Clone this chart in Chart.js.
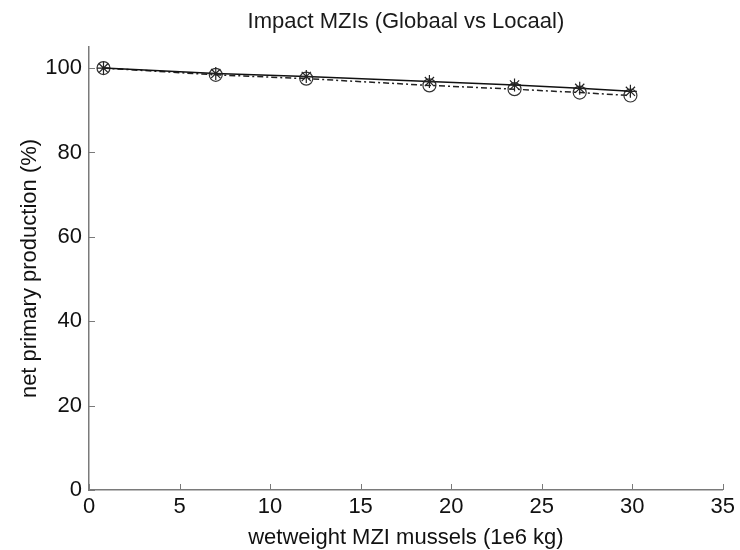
<!DOCTYPE html>
<html>
<head>
<meta charset="utf-8">
<script src="https://cdn.jsdelivr.net/npm/chart.js@4"></script>
<style>
html,body{margin:0;padding:0;background:#fff;}
#wrap{width:740px;height:550px;}
</style>
</head>
<body>
<div id="wrap"><canvas id="c" width="740" height="550"></canvas></div>
<script>
const xValues = [0.8, 7, 12, 18.8, 23.5, 27.1, 29.9];
const globaal = [100, 98.7, 98.0, 96.8, 96.0, 95.2, 94.5];
const locaal  = [100, 98.4, 97.5, 95.9, 95.0, 94.2, 93.5];
const xTicks = [0, 5, 10, 15, 20, 25, 30, 35];
const yTicks = [0, 20, 40, 60, 80, 100];
const chartTitle = 'Impact MZIs (Globaal vs Locaal)';

const toPts = (ys) => xValues.map((x, i) => ({x: x, y: ys[i]}));

const innerTicks = {
  id: 'innerTicks',
  afterDraw(chart) {
    const ctx = chart.ctx;
    const xs = chart.scales.x, ys = chart.scales.y;
    const a = chart.chartArea;
    ctx.save();
    ctx.strokeStyle = '#7a7a7a';
    ctx.lineWidth = 1;
    ctx.beginPath();
    xTicks.forEach(v => {
      const px = Math.round(xs.getPixelForValue(v)) + 0.5;
      ctx.moveTo(px, a.bottom);
      ctx.lineTo(px, a.bottom - 6);
    });
    yTicks.forEach(v => {
      const py = Math.round(ys.getPixelForValue(v)) + 0.5;
      ctx.moveTo(a.left, py);
      ctx.lineTo(a.left + 6, py);
    });
    ctx.stroke();
    ctx.restore();
  }
};

const font = "'Liberation Sans', Arial, sans-serif";

new Chart(document.getElementById('c'), {
  type: 'scatter',
  data: {
    datasets: [
      {
        label: 'Globaal',
        data: toPts(globaal),
        showLine: true,
        borderColor: '#111',
        borderWidth: 1.5,
        pointStyle: 'star',
        pointRadius: 6.5,
        pointBorderColor: '#222',
        pointBorderWidth: 1.2,
        pointBackgroundColor: 'transparent'
      },
      {
        label: 'Locaal',
        data: toPts(locaal),
        showLine: true,
        borderColor: '#222',
        borderWidth: 1.5,
        borderDash: [6, 3, 2, 3],
        pointStyle: 'circle',
        pointRadius: 6.5,
        pointBorderColor: '#333',
        pointBorderWidth: 1.2,
        pointBackgroundColor: 'transparent'
      }
    ]
  },
  options: {
    responsive: false,
    animation: false,
    devicePixelRatio: 1,
    layout: { padding: { left: 0, right: 16, top: 0, bottom: 0 } },
    plugins: {
      legend: { display: false },
      tooltip: { enabled: false },
      title: { display: false }
    },
    scales: {
      xTop: {
        type: 'linear',
        position: 'top',
        min: 0, max: 35,
        afterFit: (s) => { s.height = 47; },
        grid: { display: false, drawTicks: false },
        border: { display: false },
        ticks: { display: false },
        title: {
          display: true,
          text: chartTitle,
          color: '#1a1a1a',
          font: { family: font, size: 22, lineHeight: 1.15 },
          padding: { top: 9, bottom: 0 }
        }
      },
      x: {
        type: 'linear',
        min: 0, max: 35,
        afterBuildTicks: (s) => { s.ticks = xTicks.map(v => ({value: v})); },
        afterFit: (s) => { s.height = 60; },
        grid: { display: false, drawTicks: false },
        border: { display: true, color: '#7a7a7a', width: 1.5 },
        ticks: { color: '#111', font: { family: font, size: 22, lineHeight: 1.1 }, padding: 5, maxRotation: 0 },
        title: {
          display: true,
          text: 'wetweight MZI mussels (1e6 kg)',
          color: '#111',
          font: { family: font, size: 22, lineHeight: 1.1 },
          padding: { top: 2, bottom: 0 }
        }
      },
      y: {
        type: 'linear',
        min: 0, max: 105,
        afterBuildTicks: (s) => { s.ticks = yTicks.map(v => ({value: v})); },
        afterFit: (s) => { s.width = 89; },
        grid: { display: false, drawTicks: false },
        border: { display: true, color: '#7a7a7a', width: 1.5 },
        ticks: { color: '#111', font: { family: font, size: 22 }, padding: 7 },
        title: {
          display: true,
          text: 'net primary production (%)',
          color: '#111',
          font: { family: font, size: 22, lineHeight: 1.2 },
          padding: { top: 17, bottom: 0 }
        }
      }
    }
  },
  plugins: [innerTicks]
});
</script>
</body>
</html>
